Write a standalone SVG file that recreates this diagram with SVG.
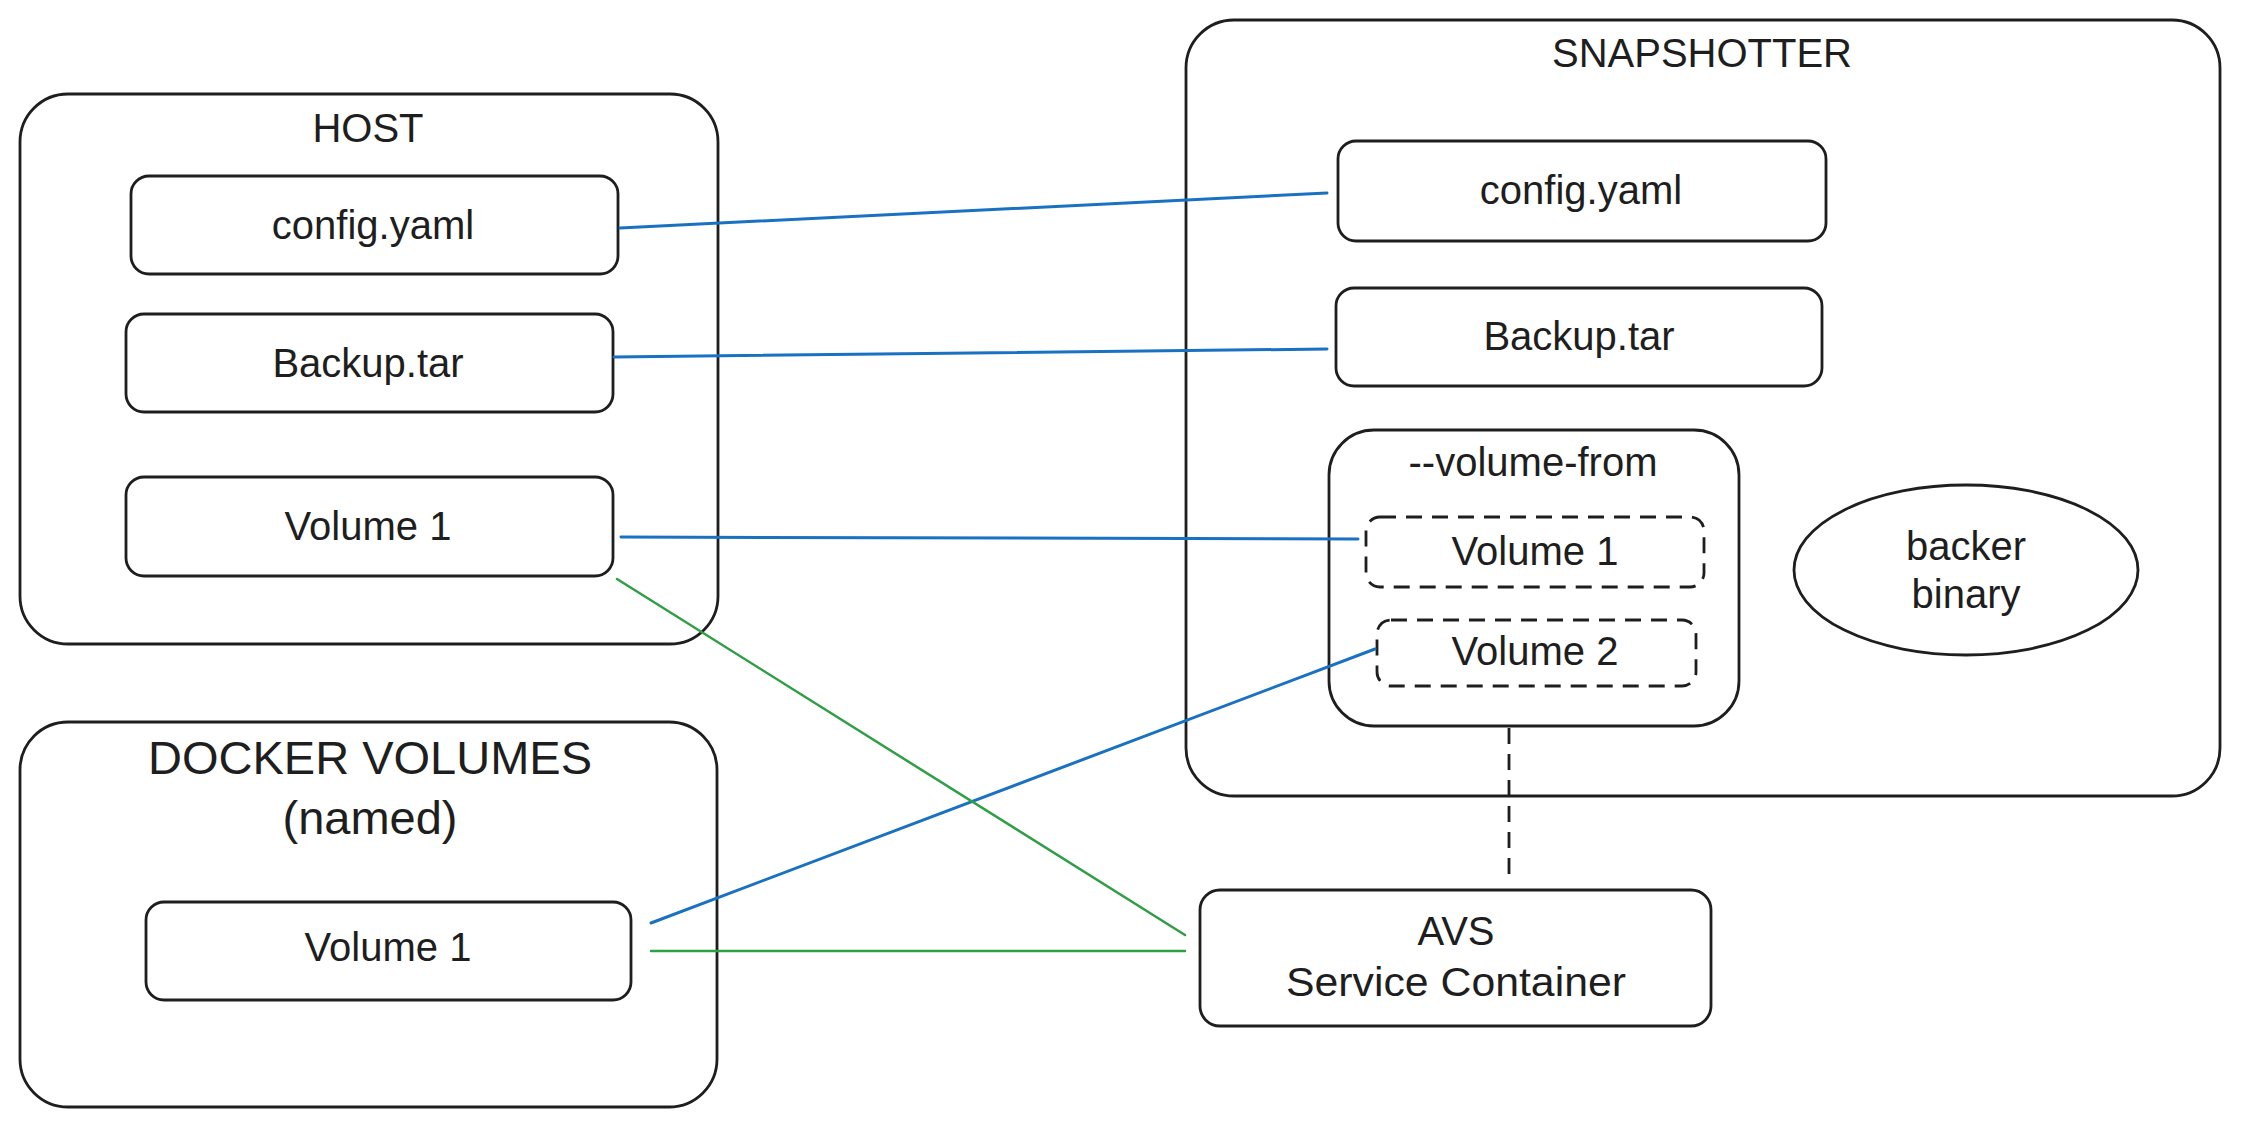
<svg xmlns="http://www.w3.org/2000/svg" width="2241" height="1127" viewBox="0 0 2241 1127">
<style>
.box{fill:none;stroke:#1e1e1e;stroke-width:2.8}
.dash{fill:none;stroke:#1e1e1e;stroke-width:2.8;stroke-dasharray:16 10}
.t{font-family:"Liberation Sans","DejaVu Sans",sans-serif;fill:#1e1e1e;text-anchor:middle}
.lbl{font-size:40px}
.ttl{font-size:40px}
.big{font-size:47px}
.blue{stroke:#1971c2;stroke-width:3;fill:none;stroke-linecap:round}
.green{stroke:#2f9e44;stroke-width:2.5;fill:none;stroke-linecap:round}
</style>
<rect width="2241" height="1127" fill="#ffffff"/>
<g id="host">
<rect class="box" x="20" y="94" width="698" height="550" rx="48"/>
<text class="t ttl" x="368" y="142">HOST</text>
</g>
<g id="host-config">
<rect class="box" x="131" y="176" width="487" height="98" rx="18"/>
<text class="t lbl" x="373" y="239">config.yaml</text>
</g>
<g id="host-backup">
<rect class="box" x="126" y="314" width="487" height="98" rx="18"/>
<text class="t lbl" x="368" y="377">Backup.tar</text>
</g>
<g id="host-volume1">
<rect class="box" x="126" y="477" width="487" height="99" rx="18"/>
<text class="t lbl" x="368" y="540">Volume 1</text>
</g>
<g id="snapshotter">
<rect class="box" x="1186" y="20" width="1034" height="776" rx="48"/>
<text class="t ttl" x="1702" y="67">SNAPSHOTTER</text>
</g>
<g id="snap-config">
<rect class="box" x="1338" y="141" width="488" height="100" rx="18"/>
<text class="t lbl" x="1581" y="204">config.yaml</text>
</g>
<g id="snap-backup">
<rect class="box" x="1336" y="288" width="486" height="98" rx="18"/>
<text class="t lbl" x="1579" y="350">Backup.tar</text>
</g>
<g id="volume-from">
<rect class="box" x="1329" y="430" width="410" height="296" rx="45"/>
<text class="t lbl" x="1533" y="476">--volume-from</text>
</g>
<g id="snap-volume1">
<rect class="dash" x="1366" y="517" width="338" height="70" rx="14"/>
<text class="t lbl" x="1535" y="565">Volume 1</text>
</g>
<g id="snap-volume2">
<rect class="dash" x="1377" y="620" width="319" height="66" rx="14"/>
<text class="t lbl" x="1535" y="665">Volume 2</text>
</g>
<g id="backer-binary">
<ellipse class="box" cx="1966" cy="570" rx="172" ry="85"/>
<text class="t lbl" x="1966" y="560">backer</text>
<text class="t lbl" x="1966" y="608">binary</text>
</g>
<g id="avs">
<rect class="box" x="1200" y="890" width="511" height="136" rx="20"/>
<text class="t lbl" x="1456" y="945">AVS</text>
<text class="t lbl" x="1456" y="996" textLength="340" lengthAdjust="spacingAndGlyphs">Service Container</text>
</g>
<g id="docker-volumes">
<rect class="box" x="20" y="722" width="697" height="385" rx="48"/>
<text class="t big" x="370" y="774">DOCKER VOLUMES</text>
<text class="t big" x="370" y="834">(named)</text>
</g>
<g id="docker-volume1">
<rect class="box" x="146" y="902" width="485" height="98" rx="18"/>
<text class="t lbl" x="388" y="961">Volume 1</text>
</g>
<g id="connectors">
<line class="blue" x1="620" y1="228" x2="1327" y2="193"/>
<line class="blue" x1="614" y1="357" x2="1327" y2="349"/>
<line class="blue" x1="621" y1="537" x2="1358" y2="539"/>
<line class="blue" x1="651" y1="923" x2="1375" y2="649"/>
<line class="green" x1="617" y1="579" x2="1185" y2="935"/>
<line class="green" x1="651" y1="951" x2="1185" y2="951"/>
<line class="dash" x1="1509" y1="728" x2="1509" y2="880"/>
</g>
</svg>
